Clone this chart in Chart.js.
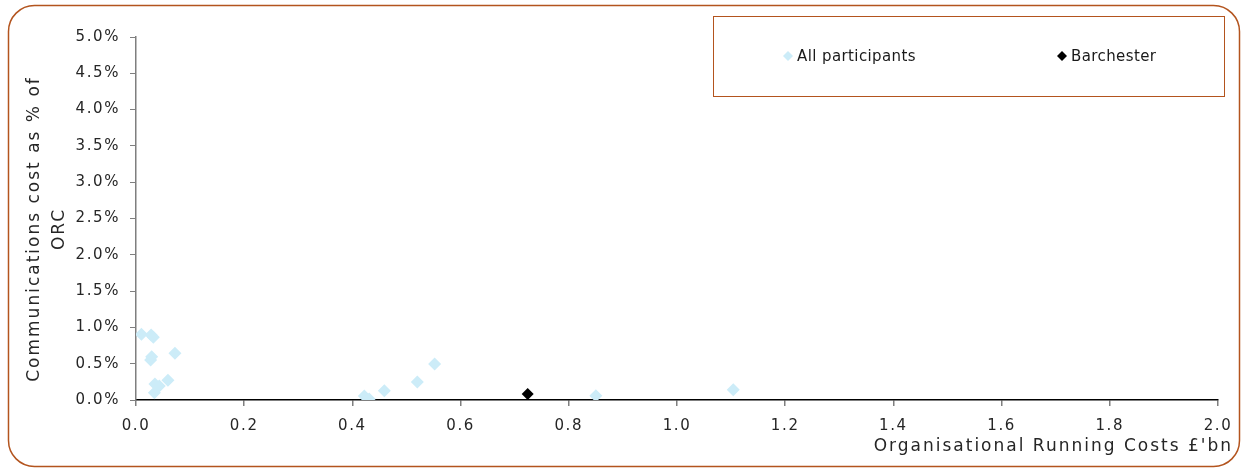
<!DOCTYPE html>
<html>
<head>
<meta charset="utf-8">
<script src="https://cdn.jsdelivr.net/npm/chart.js@4.4.1/dist/chart.umd.min.js"></script>
<style>
  html, body { margin: 0; padding: 0; background: #ffffff; }
  #wrap { width: 1247px; height: 470px; position: relative; }
</style>
</head>
<body>
<div id="wrap"><canvas id="c" width="1247" height="470"></canvas></div>
<script>
// ---- Data ----
const allX = [0.010, 0.028, 0.032, 0.029, 0.027, 0.072, 0.035, 0.043, 0.059, 0.034,
              0.422, 0.431, 0.459, 0.520, 0.552, 0.850, 1.104];
const allY = [0.905, 0.895, 0.864, 0.596, 0.551, 0.643, 0.220, 0.193, 0.271, 0.100,
              0.055, 0.014, 0.128, 0.248, 0.496, 0.059, 0.142];
const barX = [0.724];
const barY = [0.083];
const seriesLabels = ['All participants', 'Barchester'];
const seriesColors = ['#ccecf8', '#000000'];
const xTitle = "Organisational Running Costs \u00a3'bn";
const yTitle = ['Communications cost as % of', 'ORC'];

const toPts = (xs, ys) => xs.map((x, i) => ({ x: x, y: ys[i] }));

const FONT = '"DejaVu Sans", Verdana, sans-serif';
const BROWN = '#b3541e';
const TICK_SPACING = '1.6px';

const decorPlugin = {
  id: 'decor',
  beforeUpdate(chart) { chart.ctx.letterSpacing = TICK_SPACING; },
  beforeLayout(chart) { chart.ctx.letterSpacing = TICK_SPACING; },
  beforeDraw(chart) {
    const ctx = chart.ctx;
    ctx.letterSpacing = TICK_SPACING;
    ctx.save();
    ctx.fillStyle = '#ffffff';
    ctx.fillRect(0, 0, chart.width, chart.height);
    ctx.restore();
  },
  afterDraw(chart) {
    const ctx = chart.ctx;
    ctx.save();
    // outer rounded border
    ctx.strokeStyle = BROWN;
    ctx.lineWidth = 1.5;
    ctx.beginPath();
    ctx.roundRect(8.5, 5.5, 1231, 461, 26);
    ctx.stroke();

    // axis titles
    ctx.fillStyle = '#262626';
    ctx.letterSpacing = '2px';
    ctx.font = '17px ' + FONT;
    ctx.textAlign = 'right';
    ctx.textBaseline = 'middle';
    ctx.fillText(xTitle, 1233, 447);

    ctx.textAlign = 'center';
    const cy = 229;
    [35, 60].forEach((x, i) => {
      ctx.save();
      ctx.translate(x, cy);
      ctx.rotate(-Math.PI / 2);
      ctx.fillText(yTitle[i], 0, 0);
      ctx.restore();
    });

    // legend box
    ctx.letterSpacing = '0.4px';
    ctx.strokeStyle = BROWN;
    ctx.lineWidth = 1;
    ctx.strokeRect(713.5, 16.5, 511, 80);
    const items = [{ x: 788 }, { x: 1062 }];
    ctx.font = '15px ' + FONT;
    ctx.textAlign = 'left';
    ctx.textBaseline = 'middle';
    chart.data.datasets.forEach((ds, i) => {
      const lx = items[i].x, ly = 56;
      const r = 5;
      ctx.fillStyle = ds.backgroundColor;
      ctx.beginPath();
      ctx.moveTo(lx, ly - r);
      ctx.lineTo(lx + r, ly);
      ctx.lineTo(lx, ly + r);
      ctx.lineTo(lx - r, ly);
      ctx.closePath();
      ctx.fill();
      ctx.fillStyle = '#1a1a1a';
      ctx.fillText(ds.label, lx + 9, ly + 1);
    });
    ctx.restore();
  }
};

new Chart(document.getElementById('c'), {
  type: 'scatter',
  data: {
    datasets: [
      {
        label: seriesLabels[0],
        data: toPts(allX, allY),
        backgroundColor: seriesColors[0],
        borderWidth: 0,
        pointStyle: 'rectRot',
        pointRadius: 6.5,
        pointHoverRadius: 6.5
      },
      {
        label: seriesLabels[1],
        data: toPts(barX, barY),
        backgroundColor: seriesColors[1],
        borderWidth: 0,
        pointStyle: 'rectRot',
        pointRadius: 6,
        pointHoverRadius: 6
      }
    ]
  },
  options: {
    responsive: false,
    animation: false,
    events: [],
    layout: { padding: { left: 0, right: 29, top: 37, bottom: 0 } },
    plugins: {
      legend: { display: false },
      tooltip: { enabled: false },
      title: { display: false }
    },
    scales: {
      x: {
        type: 'linear',
        min: 0, max: 2,
        afterFit(s) { s.height = 70; },
        ticks: {
          stepSize: 0.2,
          color: '#262626',
          font: { family: FONT, size: 15 },
          padding: 11,
          maxRotation: 0,
          callback: v => v.toFixed(1)
        },
        grid: { drawOnChartArea: false, drawTicks: true, tickLength: 6, color: '#7f7f7f', lineWidth: 1.5 },
        border: { display: true, color: '#000000', width: 1.5 }
      },
      y: {
        type: 'linear',
        min: 0, max: 5,
        afterFit(s) { s.width = 136; },
        ticks: {
          stepSize: 0.5,
          color: '#262626',
          font: { family: FONT, size: 15 },
          padding: 10,
          callback: v => v.toFixed(1) + '%'
        },
        grid: { drawOnChartArea: false, drawTicks: true, tickLength: 6, color: '#7f7f7f', lineWidth: 1 },
        border: { display: true, color: '#7f7f7f', width: 1.5 }
      }
    }
  },
  plugins: [decorPlugin]
});
</script>
</body>
</html>
